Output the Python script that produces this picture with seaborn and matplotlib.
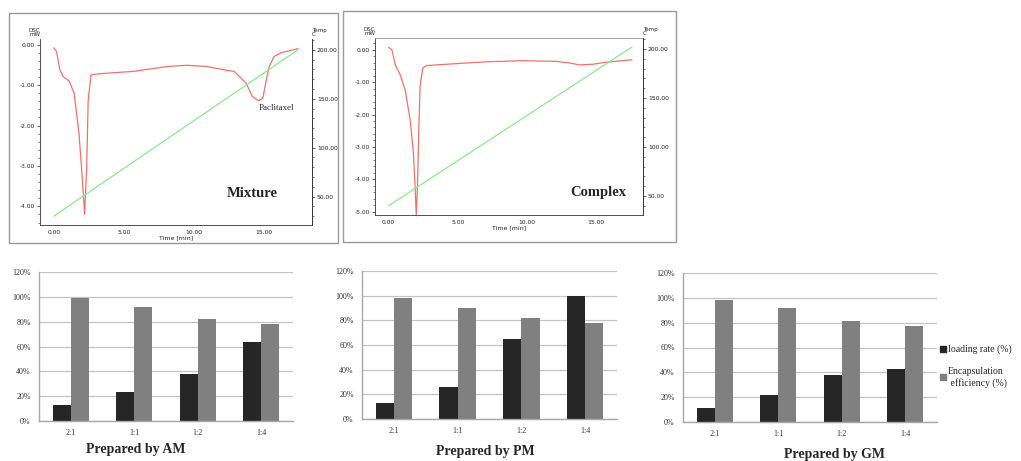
import pandas as pd
import matplotlib.pyplot as plt
import seaborn as sns
from matplotlib.lines import Line2D
from matplotlib.patches import Rectangle
from matplotlib.ticker import AutoMinorLocator, PercentFormatter

# %% Data
# DSC traces: time [min], heat flow [mW]
mix_time = [0.0, 0.2, 0.43, 0.67, 1.1, 1.45, 1.8, 2.05, 2.2, 2.35, 2.45, 2.65,
            3.2, 5.7, 8.1, 9.5, 10.9, 12.4, 12.85, 13.7, 14.15, 14.6, 14.9,
            15.1, 15.35, 15.7, 16.2, 17.4]
mix_dsc = [-0.08, -0.17, -0.62, -0.79, -0.9, -1.2, -2.2, -3.4, -4.2, -3.0, -1.4, -0.75,
           -0.72, -0.66, -0.54, -0.51, -0.54, -0.64, -0.66, -0.95, -1.28, -1.39, -1.32,
           -0.95, -0.54, -0.29, -0.2, -0.1]
mix_temp_time = [0.0, 17.4]
mix_temp = [30, 200]

cpx_time = [0.0, 0.24, 0.48, 0.84, 1.2, 1.56, 1.8, 1.92, 2.0, 2.09, 2.18, 2.28,
            2.47, 2.76, 4.92, 7.32, 9.72, 12.1, 13.1, 13.8, 14.76, 15.7, 17.6]
cpx_dsc = [0.07, 0.0, -0.46, -0.77, -1.24, -2.16, -3.2, -4.23, -5.1, -4.23, -2.58, -1.13,
           -0.57, -0.49, -0.43, -0.37, -0.34, -0.36, -0.41, -0.47, -0.45, -0.39, -0.31]
cpx_temp_time = [0.0, 17.6]
cpx_temp = [40, 202]

# Drug loading / encapsulation (fraction), per drug:carrier ratio
ratios = ["2:1", "1:1", "1:2", "1:4"]
am_loading = [0.13, 0.237, 0.376, 0.64]
am_encaps = [0.987, 0.92, 0.82, 0.78]
pm_loading = [0.129, 0.263, 0.646, 0.995]
pm_encaps = [0.98, 0.90, 0.815, 0.775]
gm_loading = [0.115, 0.214, 0.375, 0.426]
gm_encaps = [0.983, 0.916, 0.817, 0.776]

series_names = ["loading rate (%)", "Encapsulation\n efficiency (%)"]
bar_colors = ["#262626", "#808080"]

# %% Setup
sns.set_style("white")
plt.rcParams["font.family"] = ["DejaVu Sans"]
SERIF = ["Liberation Serif", "DejaVu Serif"]

W, H = 1021, 461
fig = plt.figure(figsize=(W / 100, H / 100), dpi=100)


def px_axes(left, top, right, bottom):
    return fig.add_axes([left / W, 1 - bottom / H, (right - left) / W, (bottom - top) / H])


def dsc_panel(box, frame, t, dsc, tt, temp, ylim, tlim, yticks, label, label_xy, top_spine):
    fl, ft, fr, fb = frame
    fig.add_artist(Rectangle((fl / W, 1 - fb / H), (fr - fl) / W, (fb - ft) / H,
                             transform=fig.transFigure, fill=False,
                             edgecolor="#9a9a9a", linewidth=1.0))
    ax = px_axes(*box)
    sns.lineplot(x=t, y=dsc, ax=ax, color="#f07070", linewidth=0.9, sort=False)
    ax.set_xlim(-0.98, 18.4)
    ax.set_ylim(*ylim)
    ax.set_xticks([0, 5, 10, 15])
    ax.set_xticklabels(["0.00", "5.00", "10.00", "15.00"])
    ax.set_yticks(yticks)
    ax.set_yticklabels([f"{v:.2f}" for v in yticks])
    ax.xaxis.set_minor_locator(AutoMinorLocator(5))
    ax.yaxis.set_minor_locator(AutoMinorLocator(5))
    ax.tick_params(which="both", labelsize=4.3, colors="#222222", direction="out", pad=1)
    ax.tick_params(which="major", length=2.5, width=0.5)
    ax.tick_params(which="minor", length=1.2, width=0.4)
    ax.set_xlabel("Time [min]", fontsize=4.5, labelpad=0)
    ax.set_ylabel("")
    for s in ax.spines.values():
        s.set_linewidth(0.6)
        s.set_color("#333333")
    ax.spines["top"].set_visible(top_spine)
    ax.spines["top"].set_color("#999999")

    ax2 = ax.twinx()
    sns.lineplot(x=tt, y=temp, ax=ax2, color="#8ee68e", linewidth=0.9)
    ax2.set_ylim(*tlim)
    ax2.set_yticks([50, 100, 150, 200])
    ax2.set_yticklabels(["50.00", "100.00", "150.00", "200.00"])
    ax2.yaxis.set_minor_locator(AutoMinorLocator(5))
    ax2.tick_params(which="both", labelsize=4.3, colors="#222222", direction="out", pad=1)
    ax2.tick_params(which="major", length=2.5, width=0.5)
    ax2.tick_params(which="minor", length=1.2, width=0.4)
    ax2.set_ylabel("")
    for s in ax2.spines.values():
        s.set_visible(False)
    ax2.spines["right"].set_visible(True)
    ax2.spines["right"].set_linewidth(0.6)
    ax2.spines["right"].set_color("#333333")

    ax.text(0.0, 1.01, "DSC\nmW", transform=ax.transAxes, fontsize=4, ha="right",
            va="bottom", linespacing=0.9)
    ax.text(1.0, 1.01, "Temp\nC", transform=ax.transAxes, fontsize=4, ha="left",
            va="bottom", linespacing=0.9)
    ax.text(*label_xy, label, fontsize=10.5, fontweight="bold", family=SERIF,
            ha="center", va="center")
    return ax


# %% DSC thermograms
ax_mix = dsc_panel((40, 39, 312, 225), (9, 13, 338, 243), mix_time, mix_dsc,
                   mix_temp_time, mix_temp, (-4.46, 0.14), (21, 211),
                   [0, -1, -2, -3, -4], "Mixture", (14.15, -3.68), False)
ax_mix.text(15.9, -1.57, "Paclitaxel", fontsize=6.5, family=SERIF, ha="center", va="center")

dsc_panel((375, 38, 643, 215), (343, 11, 676, 242), cpx_time, cpx_dsc,
          cpx_temp_time, cpx_temp, (-5.1, 0.36), (30.6, 211.25),
          [0, -1, -2, -3, -4, -5], "Complex", (15.2, -4.41), True)


# %% Bar charts
def bar_panel(box, loading, encaps, title, title_xy):
    ax = px_axes(*box)
    df = pd.DataFrame({
        "ratio": ratios * 2,
        "value": loading + encaps,
        "series": [series_names[0]] * len(ratios) + [series_names[1]] * len(ratios),
    })
    sns.barplot(data=df, x="ratio", y="value", hue="series", palette=bar_colors,
                width=0.57, gap=0, ax=ax, legend=False, linewidth=0, saturation=1)
    ax.set_ylim(0, 1.2)
    ax.set_yticks([0, 0.2, 0.4, 0.6, 0.8, 1.0, 1.2])
    ax.yaxis.set_major_formatter(PercentFormatter(1.0, decimals=0))
    ax.set_axisbelow(True)
    ax.yaxis.grid(True, color="#c4c4c4", linewidth=0.9)
    ax.xaxis.grid(False)
    for side in ["top", "right"]:
        ax.spines[side].set_visible(False)
    for side in ["left", "bottom"]:
        ax.spines[side].set_color("#a8a8a8")
        ax.spines[side].set_linewidth(1.0)
    ax.tick_params(length=0, labelsize=5.8, pad=6, colors="#333333")
    for lbl in ax.get_xticklabels() + ax.get_yticklabels():
        lbl.set_family(SERIF)
    ax.set_xlabel("")
    ax.set_ylabel("")
    fig.text(title_xy[0] / W, 1 - title_xy[1] / H, title, fontsize=10, fontweight="bold",
             family=SERIF, ha="center", va="center")
    return ax


bar_panel((39, 272, 293, 421), am_loading, am_encaps, "Prepared by AM", (136, 449))
bar_panel((362, 271, 617, 419), pm_loading, pm_encaps, "Prepared by PM", (485, 451))
bar_panel((683, 273, 937, 422), gm_loading, gm_encaps, "Prepared by GM", (834, 454))

handles = [Line2D([], [], marker="s", linestyle="", color=c, markersize=4) for c in bar_colors]
fig.legend(handles, series_names, loc="upper left", bbox_to_anchor=(936 / W, 1 - 341 / H),
           frameon=False, handlelength=0.6, handletextpad=0.2, labelspacing=1.3,
           borderaxespad=0, prop={"family": SERIF, "size": 7})

fig.savefig("out.png", dpi=100)
